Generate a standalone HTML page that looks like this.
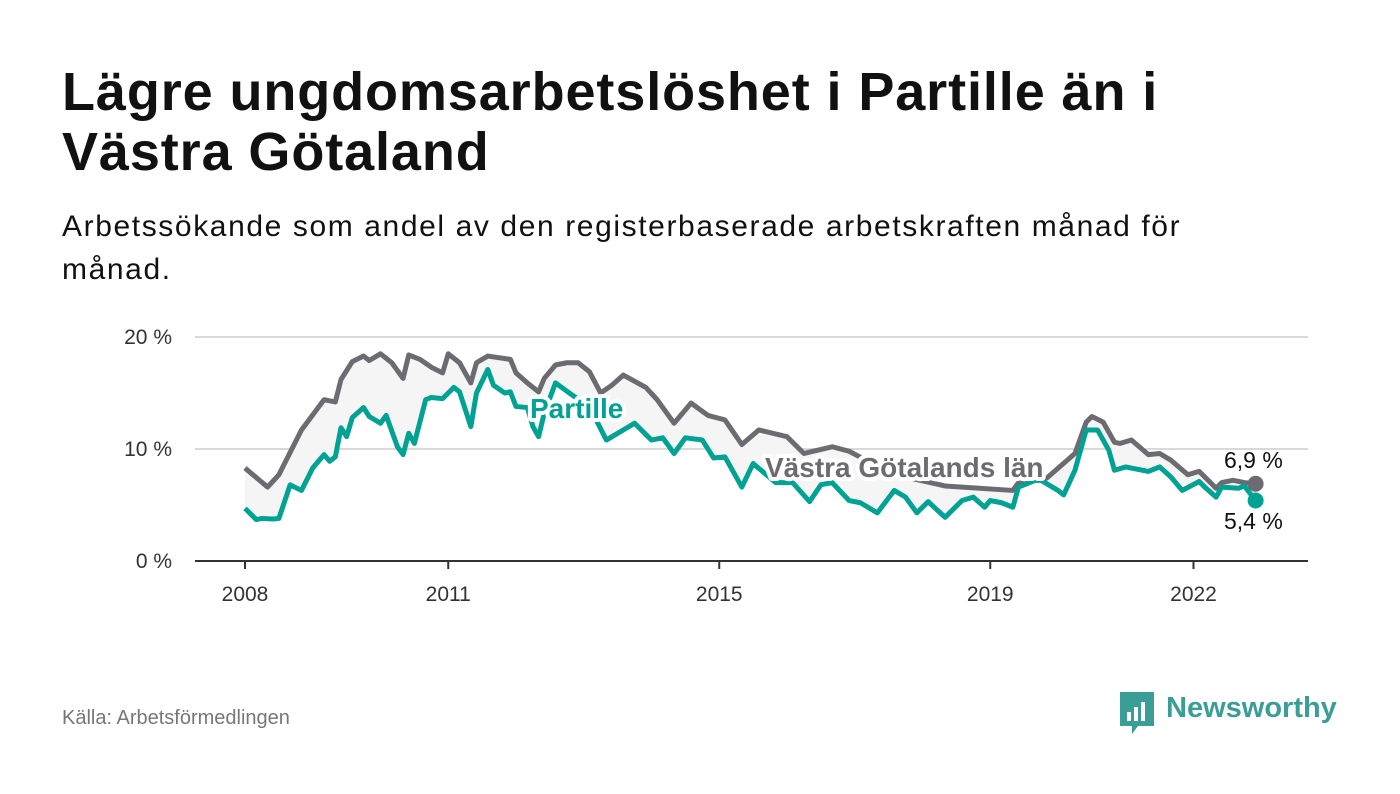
<!DOCTYPE html>
<html><head><meta charset="utf-8"><style>
body{margin:0;width:1400px;height:794px;background:#fff;font-family:"Liberation Sans",sans-serif;overflow:hidden;position:relative}
h1{position:absolute;left:62px;top:62px;margin:0;font-size:54px;line-height:60px;font-weight:bold;color:#111;width:1150px;letter-spacing:0.9px}
.sub{position:absolute;left:62px;top:205px;font-size:30px;line-height:43px;color:#111;width:1200px;letter-spacing:1.6px}
.src{position:absolute;left:62px;top:707px;font-size:20px;color:#777}
</style></head><body>
<h1>Lägre ungdomsarbetslöshet i Partille än i Västra Götaland</h1>
<div class="sub">Arbetssökande som andel av den registerbaserade arbetskraften månad för månad.</div>
<svg id="chart" width="1400" height="794" style="position:absolute;left:0;top:0"></svg>
<div class="src">Källa: Arbetsförmedlingen</div>
<div style="position:absolute;left:1118px;top:690px;height:46px;">
<svg width="38" height="46" style="position:absolute;left:0;top:0"><path d="M2 2h34v34H20l-6 8v-8H2z" fill="#3a9e96"/><rect x="9" y="22" width="4" height="9" fill="#fff"/><rect x="16" y="17" width="4" height="14" fill="#fff"/><rect x="23" y="12" width="4" height="19" fill="#fff"/></svg>
<span style="position:absolute;left:48px;top:2px;font-size:29px;font-weight:bold;color:#3a9e96;white-space:nowrap">Newsworthy</span>
</div>
<script>
const xTickLabels=["2008","2011","2015","2019","2022"];
const xTickYears=[2008,2011,2015,2019,2022];
const yTicks=[0,10,20];
const vgMonths=[0,4,6,10,14,16,17,19,21,22,24,26,28,29,31,33,35,36,38,40,41,43,47,48,50,52,53,55,57,59,61,63,65,67,71,73,76,79,82,85,88,91,96,99,104,107,110,117,124,136,137,142,147,149,150,152,154,155,157,160,162,164,167,169,170,172,173,175,177,179];
const vgValues=[8.3,6.6,7.7,11.7,14.4,14.2,16.2,17.8,18.3,17.9,18.5,17.7,16.3,18.4,18.0,17.3,16.8,18.5,17.7,15.9,17.7,18.3,18.0,16.8,15.9,15.1,16.3,17.5,17.7,17.7,16.9,15.0,15.7,16.6,15.5,14.4,12.3,14.1,13.0,12.6,10.4,11.7,11.1,9.6,10.2,9.8,9.0,7.5,6.7,6.3,7.0,7.4,9.6,12.4,12.9,12.4,10.6,10.5,10.8,9.5,9.6,9.0,7.7,8.0,7.5,6.5,7.0,7.2,7.0,6.9];
const paMonths=[0,2,3,5,6,8,10,12,14,15,16,17,18,19,21,22,24,25,27,28,29,30,32,33,35,37,38,40,41,43,44,46,47,48,50,51,52,53,55,58,61,64,69,72,74,76,78,81,83,85,88,90,94,97,100,102,104,107,109,112,115,117,119,121,124,127,129,131,132,134,136,137,140,141,144,145,147,149,151,153,154,156,160,162,164,166,169,170,172,173,176,177,179];
const paValues=[4.7,3.7,3.8,3.75,3.8,6.8,6.3,8.3,9.5,8.9,9.3,11.9,11.1,12.8,13.7,12.9,12.3,13.0,10.2,9.5,11.4,10.5,14.4,14.6,14.5,15.5,15.1,12.0,15.0,17.1,15.7,15.0,15.1,13.8,13.7,12.0,11.1,13.2,15.9,14.8,13.8,10.8,12.3,10.8,11.0,9.6,11.0,10.8,9.2,9.3,6.6,8.7,7.0,7.0,5.3,6.8,7.0,5.4,5.2,4.3,6.3,5.7,4.3,5.3,3.9,5.4,5.7,4.8,5.4,5.2,4.8,6.6,7.2,7.2,6.3,5.9,8.1,11.7,11.7,9.9,8.1,8.4,8.0,8.4,7.5,6.3,7.1,6.6,5.7,6.6,6.5,6.7,5.4];
const vgLast="6,9 %", paLast="5,4 %";

const NS="http://www.w3.org/2000/svg";
const svg=document.getElementById('chart');
const X=m=>245+m*(67.75/12);
const XY=y=>245+(y-2008)*67.75;
const Y=v=>561-v*11.2;
function mk(t,a,p){const e=document.createElementNS(NS,t);for(const k in a)e.setAttribute(k,a[k]);(p||svg).appendChild(e);return e;}
yTicks.forEach(v=>{
  if(v>0){const g=mk('line',{x1:195,x2:1308,y1:Y(v),y2:Y(v),stroke:'#d9d9d9','stroke-width':2});
  
  }
  const t=mk('text',{x:172,y:Y(v)+7,'text-anchor':'end','font-size':21,fill:'#333','font-family':'Liberation Sans, sans-serif'});
  t.textContent=v+' %';
  
  
});
const ax=mk('line',{x1:195,x2:1308,y1:561,y2:561,stroke:'#333','stroke-width':2});


xTickYears.forEach((yr,i)=>{
  mk('line',{x1:XY(yr),x2:XY(yr),y1:561,y2:569,stroke:'#333','stroke-width':2});
  const t=mk('text',{x:XY(yr),y:601,'text-anchor':'middle','font-size':21,fill:'#333','font-family':'Liberation Sans, sans-serif'});
  t.textContent=xTickLabels[i];
  
  
});
const vgPts=vgMonths.map((m,i)=>[X(m),Y(vgValues[i])]);
const paPts=paMonths.map((m,i)=>[X(m),Y(paValues[i])]);
const area=mk('polygon',{points:vgPts.concat(paPts.slice().reverse()).map(p=>p.join(',')).join(' '),fill:'#f5f5f5'});


const vgl=mk('polyline',{points:vgPts.map(p=>p.join(',')).join(' '),fill:'none',stroke:'#6d6b72','stroke-width':5,'stroke-linejoin':'round'});


const pal=mk('polyline',{points:paPts.map(p=>p.join(',')).join(' '),fill:'none',stroke:'#00a293','stroke-width':5,'stroke-linejoin':'round'});


const lv=vgPts[vgPts.length-1], lp=paPts[paPts.length-1];
const d1=mk('circle',{cx:lv[0],cy:lv[1],r:8,fill:'#6d6b72'});


const d2=mk('circle',{cx:lp[0],cy:lp[1],r:8,fill:'#00a293'});


function lab(txt,x,y,col,name,bold,size){
  const t=mk('text',{x:x,y:y,'font-size':size,'font-weight':bold?'bold':'normal',fill:col,stroke:'#fff','stroke-width':bold?8:0,'paint-order':'stroke','stroke-linejoin':'round','font-family':'Liberation Sans, sans-serif'});
  t.textContent=txt;
  
  
}
lab('Partille',530,418,'#00a293','partille-label',true,28);
lab('Västra Götalands län',765,477,'#6d6b72','vastra-gotaland-label',true,28);
lab(vgLast,1224,468,'#111','vastra-gotaland-end-value',false,23);
lab(paLast,1224,529,'#111','partille-end-value',false,23);
</script>
</body></html>
